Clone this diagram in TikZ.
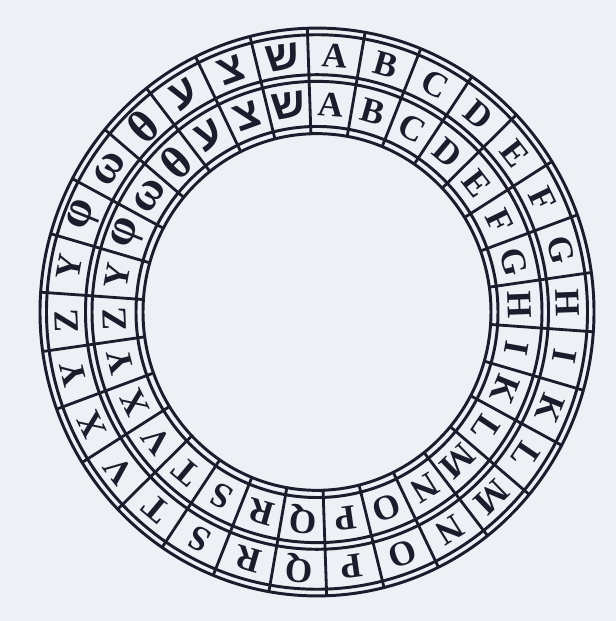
\documentclass[tikz,border=0pt]{standalone}
\usepackage{fontspec}
\setmainfont{Liberation Serif}
\newfontfamily\hebfont[Script=Hebrew]{Liberation Sans}
\usetikzlibrary{calc}

\definecolor{paper}{RGB}{238,240,245}
\definecolor{ink}{RGB}{28,28,45}

% larger size for the small Greek and Hebrew signs
\newcommand\grk[1]{{\fontsize{33}{33}\selectfont #1}}
\newcommand\heb[1]{{\hebfont\fontsize{30}{30}\selectfont #1}}

\begin{document}
\begin{tikzpicture}[
    x=0.025cm, y=0.025cm,
    % Ring lines
    ring/.style={draw=ink, line width=2.1pt},
    % Spoke lines
    spoke/.style={draw=ink, line width=2pt},
    % Letters
    glyph/.style={
        text=ink, inner sep=0pt,
        font=\fontsize{25}{25}\selectfont\bfseries
    },
]

% Page
\fill[paper] (0,0) rectangle (616,621);

% Centre of the wheel
\coordinate (c) at (317,309);

% ===== RINGS =====
\foreach \r in {277, 270.5, 231.5, 225, 181, 174}
    \draw[ring] (c) ellipse [x radius=\r, y radius=1.025*\r];

% ===== SPOKES =====
\foreach \k in {0,...,29} {
    \pgfmathsetmacro\b{92-12*\k}
    \draw[spoke] ($(c)+(\b:174 and 178.4)$) -- ($(c)+(\b:277 and 283.9)$);
}

% ===== LETTERS (outer and inner ring) =====
\foreach \l [count=\i from 0] in {A,B,C,D,E,F,G,H,I,K,L,M,N,O,P,Q,R,S,T,V,X,Y,Z,
        Υ,\grk{φ},\grk{ω},\grk{θ},\heb{ע},\heb{צ},\heb{ש}} {
    \pgfmathsetmacro\a{86-12*\i}
    \node[glyph, rotate=\a-90] (out-\i) at ($(c)+(\a:251 and 257.3)$) {\l};
    \node[glyph, rotate=\a-90] (in-\i) at ($(c)+(\a:203 and 208.1)$) {\l};
}

\end{tikzpicture}
\end{document}
